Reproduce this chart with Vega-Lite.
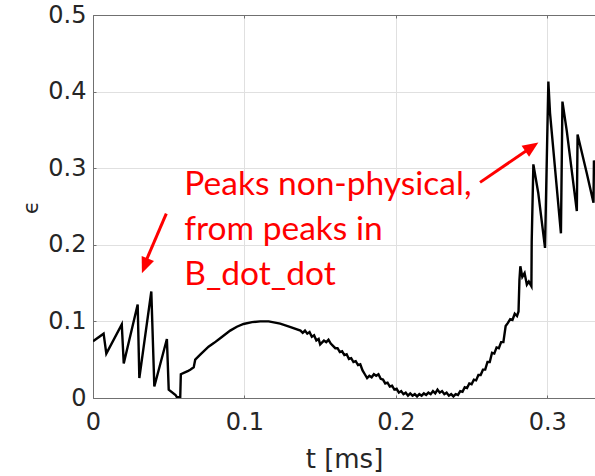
{
  "$schema": "https://vega.github.io/schema/vega-lite/v6.json",
  "width": 502,
  "height": 383,
  "autosize": {"type": "none"},
  "padding": {"left": 93, "top": 15, "right": 0, "bottom": 78},
  "background": "white",
  "config": {
    "view": {"stroke": null},
    "font": "DejaVu Sans",
    "axis": {
      "domainColor": "#707070",
      "domainWidth": 1,
      "tickColor": "#707070",
      "tickSize": -3,
      "tickWidth": 1,
      "labelColor": "#262626",
      "labelFont": "DejaVu Sans",
      "labelFontSize": 24,
      "titleColor": "#262626",
      "titleFont": "DejaVu Sans",
      "titleFontWeight": "normal",
      "gridColor": "#e0e0e0",
      "gridWidth": 1
    }
  },
  "datasets": {
    "curve": [
      {"t": 0, "eps": 0.074},
      {"t": 0.007, "eps": 0.084},
      {"t": 0.0088, "eps": 0.058},
      {"t": 0.019, "eps": 0.096},
      {"t": 0.0203, "eps": 0.045},
      {"t": 0.0295, "eps": 0.122},
      {"t": 0.0306, "eps": 0.026},
      {"t": 0.0385, "eps": 0.139},
      {"t": 0.0405, "eps": 0.015},
      {"t": 0.0488, "eps": 0.077},
      {"t": 0.05, "eps": 0.011},
      {"t": 0.0545, "eps": 0.004},
      {"t": 0.0554, "eps": 0.001},
      {"t": 0.0576, "eps": 0.001},
      {"t": 0.058, "eps": 0.031},
      {"t": 0.0625, "eps": 0.035},
      {"t": 0.0642, "eps": 0.037},
      {"t": 0.0665, "eps": 0.04},
      {"t": 0.0675, "eps": 0.05},
      {"t": 0.0708, "eps": 0.0565},
      {"t": 0.0763, "eps": 0.067},
      {"t": 0.08, "eps": 0.072},
      {"t": 0.084, "eps": 0.078},
      {"t": 0.0906, "eps": 0.088},
      {"t": 0.095, "eps": 0.093},
      {"t": 0.0994, "eps": 0.0966},
      {"t": 0.105, "eps": 0.099},
      {"t": 0.1104, "eps": 0.1},
      {"t": 0.116, "eps": 0.1},
      {"t": 0.1236, "eps": 0.097},
      {"t": 0.13, "eps": 0.093},
      {"t": 0.137, "eps": 0.088},
      {"t": 0.1385, "eps": 0.085},
      {"t": 0.14, "eps": 0.088},
      {"t": 0.1415, "eps": 0.084},
      {"t": 0.143, "eps": 0.086},
      {"t": 0.1445, "eps": 0.080},
      {"t": 0.146, "eps": 0.082},
      {"t": 0.1475, "eps": 0.075},
      {"t": 0.149, "eps": 0.077},
      {"t": 0.15, "eps": 0.070},
      {"t": 0.151, "eps": 0.072},
      {"t": 0.1525, "eps": 0.075},
      {"t": 0.154, "eps": 0.073},
      {"t": 0.1555, "eps": 0.076},
      {"t": 0.157, "eps": 0.071},
      {"t": 0.1585, "eps": 0.068},
      {"t": 0.16, "eps": 0.065},
      {"t": 0.1615, "eps": 0.065},
      {"t": 0.163, "eps": 0.060},
      {"t": 0.1645, "eps": 0.061},
      {"t": 0.166, "eps": 0.056},
      {"t": 0.1675, "eps": 0.057},
      {"t": 0.169, "eps": 0.051},
      {"t": 0.1705, "eps": 0.052},
      {"t": 0.172, "eps": 0.047},
      {"t": 0.1735, "eps": 0.048},
      {"t": 0.175, "eps": 0.043},
      {"t": 0.1765, "eps": 0.044},
      {"t": 0.178, "eps": 0.036},
      {"t": 0.1795, "eps": 0.031},
      {"t": 0.181, "eps": 0.026},
      {"t": 0.1825, "eps": 0.029},
      {"t": 0.184, "eps": 0.027},
      {"t": 0.1855, "eps": 0.031},
      {"t": 0.187, "eps": 0.029},
      {"t": 0.1885, "eps": 0.031},
      {"t": 0.19, "eps": 0.025},
      {"t": 0.1915, "eps": 0.024},
      {"t": 0.193, "eps": 0.019},
      {"t": 0.1945, "eps": 0.020},
      {"t": 0.196, "eps": 0.015},
      {"t": 0.1975, "eps": 0.016},
      {"t": 0.199, "eps": 0.011},
      {"t": 0.2005, "eps": 0.012},
      {"t": 0.202, "eps": 0.007},
      {"t": 0.2035, "eps": 0.009},
      {"t": 0.205, "eps": 0.005},
      {"t": 0.2065, "eps": 0.007},
      {"t": 0.208, "eps": 0.003},
      {"t": 0.2095, "eps": 0.006},
      {"t": 0.211, "eps": 0.003},
      {"t": 0.2125, "eps": 0.005},
      {"t": 0.214, "eps": 0.002},
      {"t": 0.2155, "eps": 0.005},
      {"t": 0.217, "eps": 0.003},
      {"t": 0.2185, "eps": 0.006},
      {"t": 0.22, "eps": 0.004},
      {"t": 0.2215, "eps": 0.007},
      {"t": 0.223, "eps": 0.005},
      {"t": 0.2245, "eps": 0.009},
      {"t": 0.226, "eps": 0.006},
      {"t": 0.2275, "eps": 0.011},
      {"t": 0.229, "eps": 0.007},
      {"t": 0.2305, "eps": 0.009},
      {"t": 0.232, "eps": 0.005},
      {"t": 0.2335, "eps": 0.007},
      {"t": 0.235, "eps": 0.003},
      {"t": 0.2365, "eps": 0.005},
      {"t": 0.238, "eps": 0.002},
      {"t": 0.2395, "eps": 0.005},
      {"t": 0.241, "eps": 0.004},
      {"t": 0.2425, "eps": 0.009},
      {"t": 0.244, "eps": 0.008},
      {"t": 0.2455, "eps": 0.014},
      {"t": 0.247, "eps": 0.013},
      {"t": 0.2485, "eps": 0.019},
      {"t": 0.25, "eps": 0.018},
      {"t": 0.2515, "eps": 0.024},
      {"t": 0.253, "eps": 0.023},
      {"t": 0.2545, "eps": 0.030},
      {"t": 0.256, "eps": 0.030},
      {"t": 0.2575, "eps": 0.037},
      {"t": 0.259, "eps": 0.037},
      {"t": 0.2605, "eps": 0.047},
      {"t": 0.262, "eps": 0.047},
      {"t": 0.2635, "eps": 0.059},
      {"t": 0.265, "eps": 0.058},
      {"t": 0.2665, "eps": 0.066},
      {"t": 0.268, "eps": 0.065},
      {"t": 0.2695, "eps": 0.073},
      {"t": 0.271, "eps": 0.073},
      {"t": 0.2725, "eps": 0.094},
      {"t": 0.274, "eps": 0.098},
      {"t": 0.2755, "eps": 0.103},
      {"t": 0.277, "eps": 0.102},
      {"t": 0.2785, "eps": 0.110},
      {"t": 0.28, "eps": 0.107},
      {"t": 0.281, "eps": 0.113},
      {"t": 0.2816, "eps": 0.154},
      {"t": 0.2822, "eps": 0.172},
      {"t": 0.2835, "eps": 0.158},
      {"t": 0.285, "eps": 0.163},
      {"t": 0.2865, "eps": 0.148},
      {"t": 0.2878, "eps": 0.152},
      {"t": 0.2895, "eps": 0.146},
      {"t": 0.2897, "eps": 0.204},
      {"t": 0.2908, "eps": 0.305},
      {"t": 0.294, "eps": 0.268},
      {"t": 0.2985, "eps": 0.196},
      {"t": 0.3007, "eps": 0.413},
      {"t": 0.3018, "eps": 0.372},
      {"t": 0.309, "eps": 0.215},
      {"t": 0.31, "eps": 0.387},
      {"t": 0.3129, "eps": 0.348},
      {"t": 0.3195, "eps": 0.244},
      {"t": 0.32, "eps": 0.344},
      {"t": 0.326, "eps": 0.294},
      {"t": 0.3305, "eps": 0.255},
      {"t": 0.3308, "eps": 0.31},
      {"t": 0.332, "eps": 0.3}
    ],
    "arrows": [
      {"t": 0.0484, "eps": 0.2406, "t2": 0.0336, "eps2": 0.1725},
      {"t": 0.2556, "eps": 0.2815, "t2": 0.2905, "eps2": 0.3287}
    ],
    "heads": [
      {"t": 0.0323, "eps": 0.163, "angle": 202},
      {"t": 0.2941, "eps": 0.3337, "angle": 55.5}
    ],
    "note": [
      {"t": 0.0603, "eps": 0.2654, "label": ["Peaks non-physical,", "from peaks in", "B_dot_dot"]}
    ]
  },
  "layer": [
    {
      "data": {"name": "curve"},
      "mark": {"type": "line", "color": "black", "strokeWidth": 2.4, "interpolate": "linear", "clip": true},
      "encoding": {
        "x": {
          "field": "t", "type": "quantitative",
          "scale": {"domain": [0, 0.3315], "nice": false, "zero": false},
          "axis": {"values": [0, 0.1, 0.2, 0.3], "format": "~g", "title": "t [ms]", "titleFontSize": 26, "titleBaseline": "alphabetic", "titleY": 69, "labelPadding": 15, "grid": true, "labelFlush": false}
        },
        "y": {
          "field": "eps", "type": "quantitative",
          "scale": {"domain": [0, 0.5], "nice": false},
          "axis": {"values": [0, 0.1, 0.2, 0.3, 0.4, 0.5], "format": "~g", "title": "ϵ", "titleFontSize": 22, "titleX": -63, "titleY": 192, "titleAlign": "center", "titleBaseline": "middle", "labelPadding": 10, "grid": true}
        }
      }
    },
    {
      "data": {"name": "arrows"},
      "mark": {"type": "rule", "color": "#ff0000", "strokeWidth": 3},
      "encoding": {
        "x": {"field": "t", "type": "quantitative", "axis": null},
        "y": {"field": "eps", "type": "quantitative", "title": "ϵ"},
        "x2": {"field": "t2"},
        "y2": {"field": "eps2"}
      }
    },
    {
      "data": {"name": "heads"},
      "mark": {"type": "point", "shape": "M0,0L-0.42,1L0.42,1Z", "filled": true, "color": "#ff0000", "opacity": 1, "strokeWidth": 0, "size": 1000},
      "encoding": {
        "x": {"field": "t", "type": "quantitative", "axis": null},
        "y": {"field": "eps", "type": "quantitative", "title": "ϵ"},
        "angle": {"field": "angle", "type": "quantitative", "scale": null}
      }
    },
    {
      "data": {"name": "note"},
      "mark": {"type": "text", "color": "#ff0000", "font": "Lato", "fontSize": 33.5, "align": "left", "baseline": "alphabetic", "lineHeight": 45},
      "encoding": {
        "x": {"field": "t", "type": "quantitative", "axis": null},
        "y": {"field": "eps", "type": "quantitative", "title": "ϵ"},
        "text": {"field": "label"}
      }
    },
    {
      "data": {"values": [{"t": 0}]},
      "mark": {"type": "point", "opacity": 0},
      "encoding": {
        "x": {"field": "t", "type": "quantitative", "axis": {"orient": "top", "labels": false, "title": null, "grid": false, "values": [0, 0.1, 0.2, 0.3]}}
      }
    }
  ],
  "resolve": {"axis": {"x": "independent"}}
}
